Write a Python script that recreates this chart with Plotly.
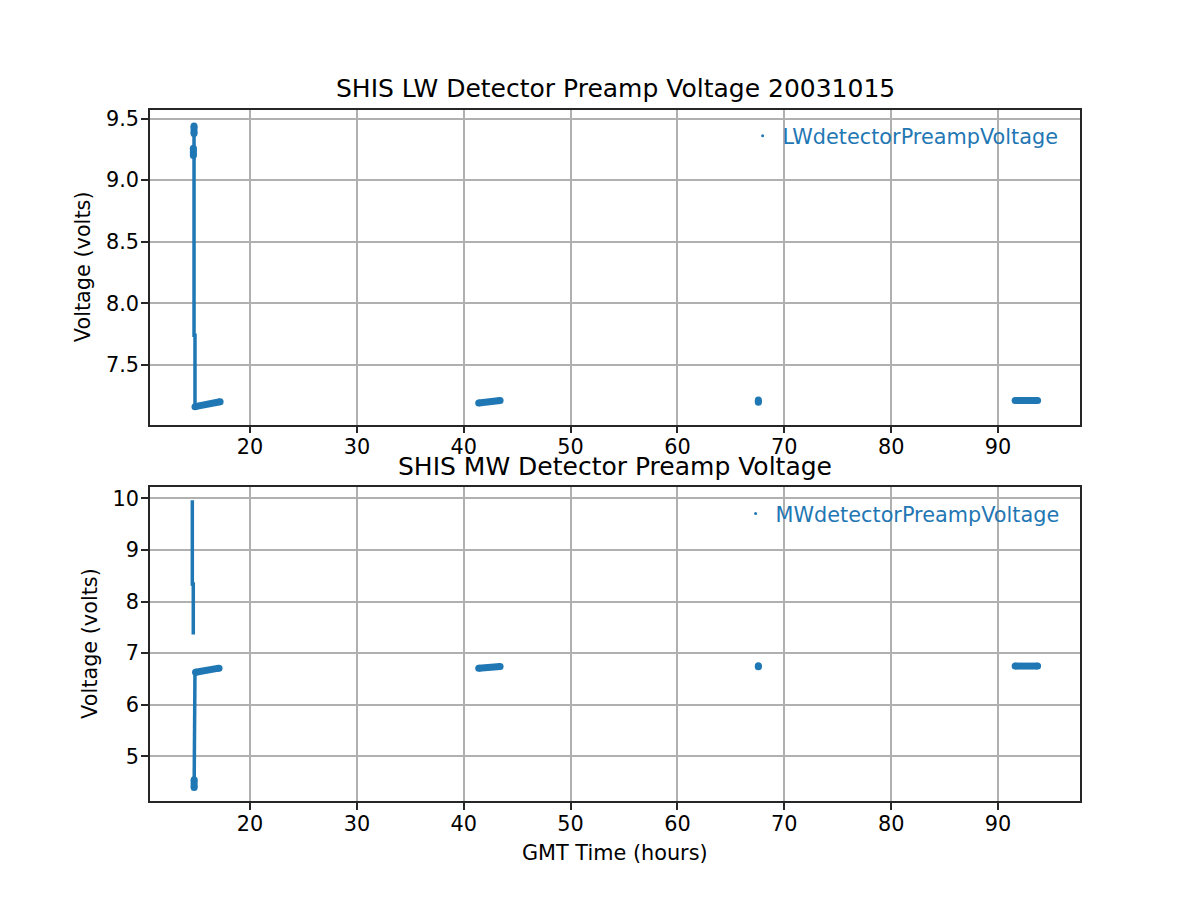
import plotly.graph_objects as go

BLUE = "#1f77b4"
FONT = "DejaVu Sans"

# ---------------- data ----------------
# LW detector preamp voltage: the steep spike at start, then dense clusters
lw_spike_x = [14.76, 14.76, 14.85, 14.85]
lw_spike_y = [9.45, 7.74, 7.74, 7.15]
lw_blob_x = [14.85, 17.2, None, 41.4, 43.4, None, 67.57, 67.57, None, 91.6, 93.7, None, 14.70, 14.70, None, 14.76, 14.76]
lw_blob_y = [7.16, 7.20, None, 7.19, 7.21, None, 7.195, 7.215, None, 7.21, 7.21, None, 9.20, 9.26, None, 9.38, 9.44]

# MW detector preamp voltage
mw_spike_x = [14.60, 14.60, 14.69, 14.69, None, 14.77, 14.77, 14.85, 14.85]
mw_spike_y = [9.96, 8.34, 8.34, 7.36, None, 4.38, 5.21, 5.21, 6.68]
mw_blob_x = [14.9, 17.1, None, 41.4, 43.4, None, 67.57, 67.57, None, 91.6, 93.7, None, 14.77, 14.77]
mw_blob_y = [6.63, 6.71, None, 6.71, 6.74, None, 6.735, 6.755, None, 6.75, 6.75, None, 4.40, 4.55]

x_ticks = [20, 30, 40, 50, 60, 70, 80, 90]
lw_y_ticks = [7.5, 8.0, 8.5, 9.0, 9.5]
mw_y_ticks = [5, 6, 7, 8, 9, 10]

x_range = [10.64, 97.67]
lw_y_range = [7.014, 9.573]
mw_y_range = [4.13, 10.21]

# page body adds an 8px offset; compensate so positions match target pixels
OFF = 8.0
W, H = 1200.0, 900.0
def px(x):
    return (x - OFF) / W
def py(y):
    return 1 - (y - OFF) / H

fig = go.Figure()

def add_panel(sx, sy, bx, by, name, xa, ya, legend):
    fig.add_trace(go.Scatter(x=sx, y=sy, mode="lines", line=dict(color=BLUE, width=3.5),
                             xaxis=xa, yaxis=ya, showlegend=False, hoverinfo="skip"))
    fig.add_trace(go.Scatter(x=bx, y=by, mode="lines+markers", line=dict(color=BLUE, width=7),
                             marker=dict(color=BLUE, size=7), xaxis=xa, yaxis=ya,
                             showlegend=False, hoverinfo="skip"))
    fig.add_trace(go.Scatter(x=[None], y=[None], mode="markers", name=name,
                             marker=dict(color=BLUE, size=3), xaxis=xa, yaxis=ya,
                             legend=legend, showlegend=True))

add_panel(lw_spike_x, lw_spike_y, lw_blob_x, lw_blob_y, "LWdetectorPreampVoltage", "x", "y", "legend")
add_panel(mw_spike_x, mw_spike_y, mw_blob_x, mw_blob_y, "MWdetectorPreampVoltage", "x2", "y2", "legend2")

TICK = 20.8
axis_common = dict(showline=True, linecolor="#262626", linewidth=1.7, mirror=True,
                   ticks="outside", ticklen=7, tickwidth=1.7, tickcolor="#262626",
                   showgrid=True, gridcolor="#b0b0b0", gridwidth=1.6, zeroline=False,
                   tickfont=dict(family=FONT, size=TICK, color="black"))

fig.update_layout(
    width=1200, height=900,
    margin=dict(l=0, r=0, t=0, b=0),
    paper_bgcolor="white", plot_bgcolor="white",
    font=dict(family=FONT, size=TICK, color="black"),
    xaxis=dict(domain=[px(150), px(1080)], range=x_range, tickvals=x_ticks, anchor="y",
               ticklabelstandoff=-4, **axis_common),
    yaxis=dict(domain=[py(423), py(107)], range=lw_y_range, tickvals=lw_y_ticks, tickformat=".1f", anchor="x",
               ticklabelstandoff=-2, **axis_common),
    xaxis2=dict(domain=[px(150), px(1080)], range=x_range, tickvals=x_ticks, anchor="y2",
                ticklabelstandoff=-4, **axis_common),
    yaxis2=dict(domain=[py(801), py(486)], range=mw_y_range, tickvals=mw_y_ticks, anchor="x2",
                ticklabelstandoff=-2, **axis_common),
    legend=dict(x=px(742.6), y=py(113), xanchor="left", yanchor="top", bgcolor="rgba(0,0,0,0)",
                font=dict(family=FONT, size=TICK, color=BLUE)),
    legend2=dict(x=px(735.6), y=py(492), xanchor="left", yanchor="top", bgcolor="rgba(0,0,0,0)",
                 font=dict(family=FONT, size=TICK, color=BLUE)),
    annotations=[
        dict(text="SHIS LW Detector Preamp Voltage 20031015", x=px(615), y=py(86),
             xref="paper", yref="paper", showarrow=False, xanchor="center", yanchor="middle",
             font=dict(family=FONT, size=25, color="black")),
        dict(text="SHIS MW Detector Preamp Voltage", x=px(615), y=py(465),
             xref="paper", yref="paper", showarrow=False, xanchor="center", yanchor="middle",
             font=dict(family=FONT, size=25, color="black")),
        dict(text="Voltage (volts)", x=px(83), y=py(265), textangle=-90,
             xref="paper", yref="paper", showarrow=False, xanchor="center", yanchor="middle",
             font=dict(family=FONT, size=TICK, color="black")),
        dict(text="Voltage (volts)", x=px(90), y=py(643), textangle=-90,
             xref="paper", yref="paper", showarrow=False, xanchor="center", yanchor="middle",
             font=dict(family=FONT, size=TICK, color="black")),
        dict(text="GMT Time (hours)", x=px(615), y=py(853),
             xref="paper", yref="paper", showarrow=False, xanchor="center", yanchor="middle",
             font=dict(family=FONT, size=TICK, color="black")),
    ],
)

fig.write_html("out.html")
